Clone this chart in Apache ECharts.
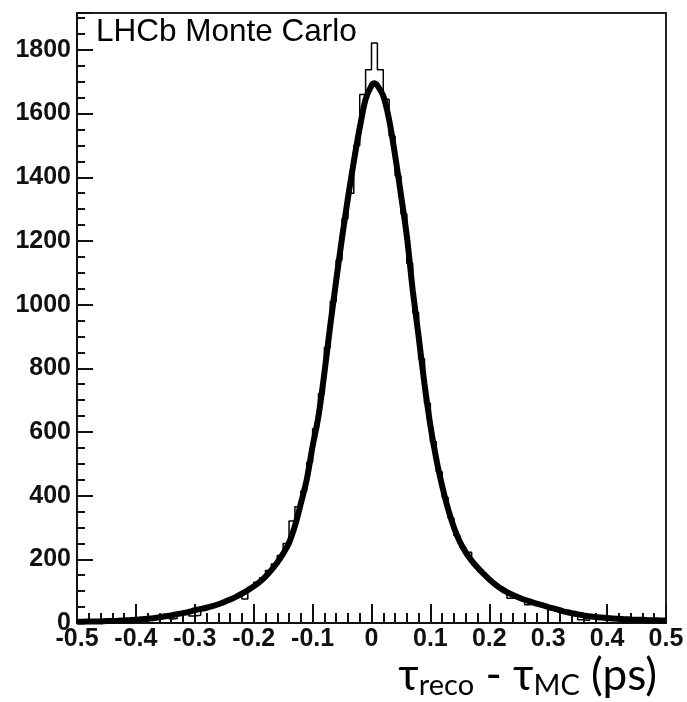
<!DOCTYPE html>
<html>
<head>
<meta charset="utf-8">
<script src="https://cdn.jsdelivr.net/npm/echarts@6/dist/echarts.min.js"></script>
<style>
html,body{margin:0;padding:0;background:#fff;}
#chart{width:687px;height:702px;}
</style>
</head>
<body>
<div id="chart"></div>
<script>
// Histogram: 100 bins of width 0.01 from -0.5 to 0.5
const histMin = -0.5;
const binWidth = 0.01;
const histCounts = [
  3, 5, 4, 6, 5, 7, 6, 8, 9, 8,
  12, 11, 15, 16, 18, 12, 14, 30, 35, 22,
  24, 46, 52, 58, 62, 72, 80, 88, 75, 112,
  128, 142, 165, 185, 212, 250, 320, 365, 415, 505,
  610, 720, 865, 1010, 1140, 1270, 1350, 1500, 1660, 1738,
  1822, 1738, 1645, 1530, 1405, 1285, 1130, 975, 830, 690,
  570, 475, 395, 330, 275, 238, 222, 185, 162, 146,
  128, 112, 102, 78, 84, 76, 57, 64, 58, 54,
  47, 42, 37, 33, 29, 10, 8, 20, 18, 16,
  15, 14, 12, 13, 10, 11, 9, 10, 8, 2
];

// Fit curve
const curveX = [
  -0.50,-0.49,-0.48,-0.47,-0.46,-0.45,-0.44,-0.43,-0.42,-0.41,
  -0.40,-0.39,-0.38,-0.37,-0.36,-0.35,-0.34,-0.33,-0.32,-0.31,
  -0.30,-0.29,-0.28,-0.27,-0.26,-0.25,-0.24,-0.23,-0.22,-0.21,
  -0.20,-0.19,-0.18,-0.17,-0.16,-0.15,-0.14,-0.13,-0.12,-0.11,
  -0.10,-0.09,-0.08,-0.07,-0.06,-0.05,-0.04,-0.03,-0.02,-0.01,
  0.00,0.005,0.01,0.02,0.03,0.04,0.05,0.06,0.07,0.08,0.09,
  0.10,0.11,0.12,0.13,0.14,0.15,0.16,0.17,0.18,0.19,
  0.20,0.21,0.22,0.23,0.24,0.25,0.26,0.27,0.28,0.29,
  0.30,0.31,0.32,0.33,0.34,0.35,0.36,0.37,0.38,0.39,
  0.40,0.41,0.42,0.43,0.44,0.45,0.46,0.47,0.48,0.49,0.50
];
const curveY = [
  4,4,5,5,5,6,6,7,8,9,
  10,12,13,15,18,21,24,28,31,35,
  40,44,48,53,59,66,74,82,92,103,
  115,129,146,166,190,218,252,305,375,450,
  555,650,785,935,1075,1210,1335,1450,1555,1645,
  1688,1695,1688,1655,1580,1470,1345,1215,1045,900,750,
  620,515,430,358,300,255,222,196,174,155,
  137,121,108,97,88,80,73,67,61,56,
  50,45,40,35,31,27,24,21,19,17,
  16,14,13,12,11,10,10,9,9,8,8
];

const xTickInterval = 0.1;
const yTickInterval = 200;
const yMax = 1916;
const labelText = 'LHCb Monte Carlo';

// Build step data at bin edges
const histData = histCounts.map((c, i) => [histMin + i * binWidth, c]);
histData.push([histMin + histCounts.length * binWidth, histCounts[histCounts.length - 1]]);
const curveData = curveX.map((x, i) => [x, curveY[i]]);

const chart = echarts.init(document.getElementById('chart'), null, {renderer: 'canvas'});
const labelFont = {fontFamily: 'Liberation Sans, Arial, sans-serif', fontWeight: 'bold', fontSize: 25, color: '#111'};
chart.setOption({
  animation: false,
  backgroundColor: '#fff',
  grid: {left: 77, right: 21, top: 13, bottom: 79, show: true, borderColor: '#222', borderWidth: 2, backgroundColor: 'transparent'},
  title: {
    text: labelText, left: 96, top: 16, padding: 0,
    textStyle: {fontFamily: 'Liberation Sans, Arial, sans-serif', fontWeight: 'normal', fontSize: 31.5, color: '#000'}
  },
  xAxis: {
    type: 'value', min: -0.5, max: 0.5, interval: xTickInterval,
    axisLine: {show: true, onZero: false, lineStyle: {color: '#111', width: 2}},
    axisTick: {show: true, inside: true, length: 19, lineStyle: {color: '#111', width: 2}},
    minorTick: {show: true, splitNumber: 5, length: 10, lineStyle: {color: '#111', width: 2}},
    splitLine: {show: false},
    axisLabel: Object.assign({margin: 4, formatter: v => {
      const r = Math.round(v * 10) / 10; return r === 0 ? '0' : r.toFixed(1);
    }}, labelFont)
  },
  yAxis: {
    type: 'value', min: 0, max: yMax, interval: yTickInterval,
    axisLine: {show: true, onZero: false, lineStyle: {color: '#111', width: 2}},
    axisTick: {show: true, inside: true, length: 16, lineStyle: {color: '#111', width: 2}},
    minorTick: {show: true, splitNumber: 4, length: 8, lineStyle: {color: '#111', width: 2}},
    splitLine: {show: false},
    axisLabel: Object.assign({margin: 6, formatter: v => (Math.abs(v % 200) < 1e-6 ? String(v) : '')}, labelFont)
  },
  graphic: [{
    type: 'text', right: 30, top: 654,
    style: {
      text: '{m|τ}{s|reco}{m| - τ}{s|MC}{m| (ps)}',
      rich: {
        m: {fontFamily: 'Lato, Noto Sans, sans-serif', fontSize: 44, lineHeight: 48, color: '#000'},
        s: {fontFamily: 'Lato, Noto Sans, sans-serif', fontSize: 29, lineHeight: 18, verticalAlign: 'bottom', color: '#000'}
      }
    }
  }],
  series: [
    {
      name: 'hist', type: 'line', step: 'end', data: histData, symbol: 'none',
      lineStyle: {color: '#000', width: 1.5}, z: 2
    },
    {
      name: 'fit', type: 'line', data: curveData, symbol: 'none', smooth: 0.3,
      lineStyle: {color: '#000', width: 6}, z: 3
    }
  ]
});
</script>
</body>
</html>
